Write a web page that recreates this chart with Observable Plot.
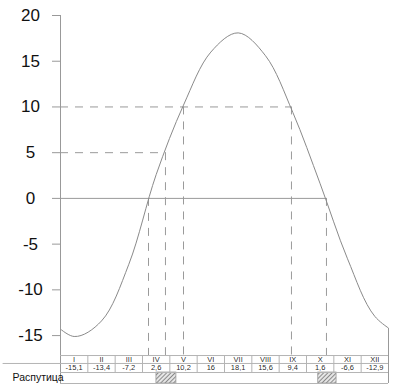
<!DOCTYPE html>
<html><head><meta charset="utf-8">
<script src="https://cdn.jsdelivr.net/npm/d3@7"></script>
<script src="https://cdn.jsdelivr.net/npm/@observablehq/plot@0.6"></script>
<style>body{margin:0;background:#fff;} svg{display:block}</style>
</head><body>
<svg width="0" height="0" style="position:absolute"><defs>
<pattern id="hatch" patternUnits="userSpaceOnUse" width="3" height="3" patternTransform="rotate(45)">
<rect width="3" height="3" fill="#e6e6e6"/>
<line x1="0.5" y1="0" x2="0.5" y2="3" stroke="#8a8a8a" stroke-width="1"/></pattern></defs></svg>
<div id="chart"></div>
<script>
// ---- data ----
const months = ["I","II","III","IV","V","VI","VII","VIII","IX","X","XI","XII"];
const temps = [-15.1,-13.4,-7.2,2.6,10.2,16,18.1,15.6,9.4,1.6,-6.6,-12.9];
const yTicks = [-15,-10,-5,0,5,10,15,20];
// crossing points of the curve (in month units) and the levels crossed
const crossMonths = [3.22, 3.84, 4.5, 8.45, 9.73];
const crossLevels = [0, 5, 10, 10, 0];
// thaw (распутица) periods
const thawStart = [3.51, 9.43];
const thawEnd = [4.24, 10.1];
const rowLabel = "Распутица";
const edgeValue = -14.2;

// ---- layout (table rows in y units) ----
const yTop = -17.18, yDiv1 = -18.05, yDiv2 = -19.04, yBot = -20.24;
const yMonthTxt = -17.62, yValTxt = -18.55, yRowTxt = -19.64;

const curve = [{m: -0.5, v: temps[11]}]
  .concat(temps.map((v, i) => ({m: i + 0.5, v})))
  .concat([{m: 12.5, v: temps[0]}]);
const cross = crossMonths.map((m, i) => ({m, v: crossLevels[i]}));
const hLines = [
  {v: 10, x2: crossMonths[3]},
  {v: 5, x2: crossMonths[1]}
];
const thaw = thawStart.map((s, i) => ({s, e: thawEnd[i]}));
const fmt = v => String(v).replace(".", ",");

const gridC = "#b4b4b4";
const chart = Plot.plot({
  width: 395, height: 389,
  marginLeft: 60, marginRight: 7, marginTop: 15, marginBottom: 6,
  style: {fontFamily: "Liberation Sans, Arial, sans-serif", background: "#fff", color: "#111"},
  x: {domain: [0, 12], axis: null},
  y: {domain: [yBot, 20], axis: null},
  marks: [
    // hatched thaw boxes
    Plot.rect(thaw, {x1: "s", x2: "e", y1: yBot, y2: yDiv2, fill: "url(#hatch)", stroke: "#999", strokeWidth: 0.8}),
    // dashed guide lines
    Plot.ruleY(hLines, {y: "v", x1: 0, x2: "x2", stroke: "#9a9a9a", strokeDasharray: "8,7"}),
    Plot.ruleX(cross, {x: "m", y1: "v", y2: yTop, stroke: "#9a9a9a", strokeDasharray: "8,7"}),
    // zero line
    Plot.ruleY([0], {x1: 0, x2: crossMonths[4], stroke: "#9a9a9a"}),
    // curve
    Plot.line(curve, {x: "m", y: "v", curve: "catmull-rom", stroke: "#8a8a8a", strokeWidth: 1, clip: true}),
    // axis line & right border
    Plot.ruleX([0], {y1: yBot, y2: 20, stroke: "#999"}),
    Plot.ruleX([12], {y1: yBot, y2: edgeValue, stroke: "#999"}),
    Plot.axisY(yTicks, {label: null, tickFormat: d => String(d), tickSize: 8, tickPadding: 22, textAnchor: "middle", fontSize: 17, stroke: "#999", fill: "#111"}),
    // table
    Plot.ruleY([yTop], {x1: 0, x2: 12, stroke: gridC}),
    Plot.ruleY([yDiv1], {x1: -2.1, x2: 12, stroke: gridC}),
    Plot.ruleY([yDiv2], {x1: 0, x2: 12, stroke: gridC}),
    Plot.ruleY([yBot], {x1: 0, x2: 12, stroke: gridC}),
    Plot.ruleX(d3.range(1, 12), {x: d => d, y1: yDiv2, y2: yTop, stroke: gridC}),
    Plot.text(months, {x: (d, i) => i + 0.5, y: yMonthTxt, text: d => d, fontSize: 7.5, fill: "#222", fillOpacity: 0.99}),
    Plot.text(temps, {x: (d, i) => i + 0.5, y: yValTxt, text: d => fmt(d), fontSize: 7.5, fill: "#222", fillOpacity: 0.99}),
    Plot.text([rowLabel], {x: 0, dx: -48, y: yRowTxt, text: d => d, textAnchor: "start", fontSize: 10.5, fill: "#111"})
  ]
});
document.getElementById("chart").appendChild(chart);
</script>
</body></html>
